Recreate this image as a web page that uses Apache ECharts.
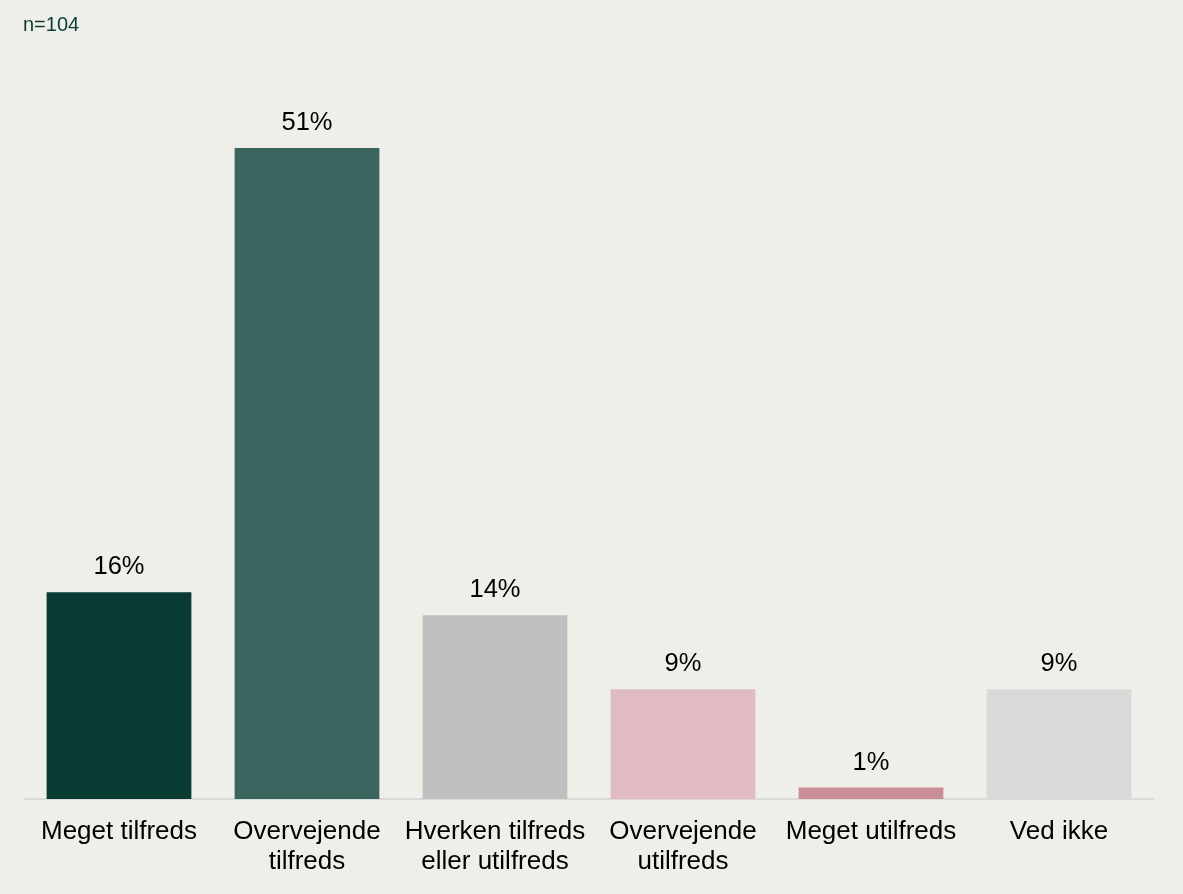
<!DOCTYPE html>
<html>
<head>
<meta charset="utf-8">
<script src="https://cdn.jsdelivr.net/npm/echarts@6/dist/echarts.min.js"></script>
<style>
  html, body { margin: 0; padding: 0; background: #efefea; }
  #chart { width: 1183px; height: 894px; }
</style>
</head>
<body>
<div id="chart"></div>
<script>
const categories = [
  "Meget tilfreds",
  "Overvejende\ntilfreds",
  "Hverken tilfreds\neller utilfreds",
  "Overvejende\nutilfreds",
  "Meget utilfreds",
  "Ved ikke",
];
const values = [16.2, 51, 14.4, 8.6, 0.9, 8.6];
const barColors = ["#0a3b33", "#3a645e", "#bfbfbf", "#e0bcc2", "#c98e98", "#d9d9d9"];

const chart = echarts.init(document.getElementById("chart"));

chart.setOption({
  backgroundColor: "#efefea",
  textStyle: { fontFamily: "Liberation Sans, Arial, sans-serif" },
  title: {
    text: "n=104",
    left: 18,
    top: 10,
    textStyle: { fontSize: 20, fontWeight: "normal", color: "#0b3c34" },
  },
  grid: { left: 25, right: 30, top: 33, bottom: 95 },
  xAxis: {
    type: "category",
    data: categories,
    axisLine: { lineStyle: { color: "#d9d9d9", width: 2 } },
    axisTick: { show: false },
    axisLabel: {
      interval: 0,
      color: "#000",
      fontSize: 26,
      lineHeight: 30,
      margin: 18,
    },
  },
  yAxis: {
    type: "value",
    min: 0,
    max: 60,
    show: false,
    splitLine: { show: false },
  },
  series: [
    {
      type: "bar",
      barWidth: "77%",
      data: values.map((v, i) => ({ value: v, itemStyle: { color: barColors[i] } })),
      label: {
        show: true,
        position: "top",
        distance: 12,
        color: "#000",
        fontSize: 25.5,
        formatter: (p) => Math.round(p.value) + "%",
      },
    },
  ],
});
</script>
</body>
</html>
